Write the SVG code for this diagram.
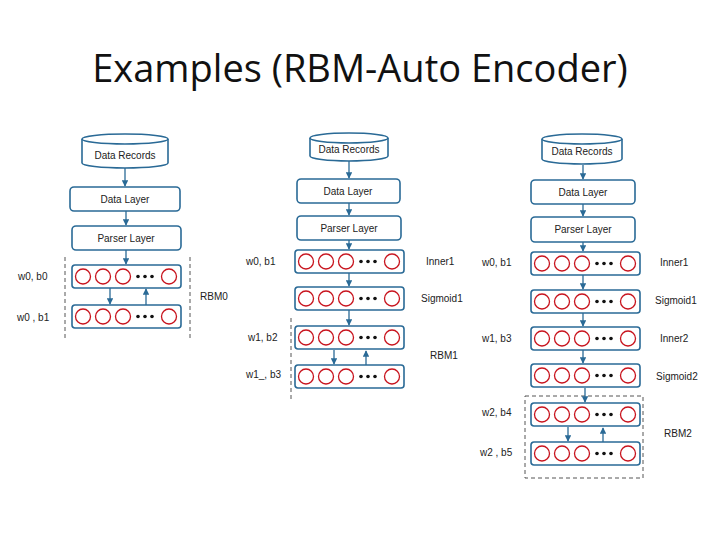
<svg xmlns="http://www.w3.org/2000/svg" xmlns:xlink="http://www.w3.org/1999/xlink" width="720" height="540" viewBox="0 0 720 540">
<style>
.box{fill:#fff;stroke:#2a6a96;stroke-width:1.6}
.lbl{font-family:"Liberation Sans",Arial,sans-serif;font-size:10px;fill:#222}
.in{font-family:"Liberation Sans",Arial,sans-serif;font-size:10px;fill:#222;text-anchor:middle}
.c{fill:#fff;stroke:#c8141e;stroke-width:1.3}
.dash{stroke:#555;stroke-width:1;stroke-dasharray:4,3;fill:none}
.arr{stroke:#2a6a96;stroke-width:1.3;fill:none;marker-end:url(#ah)}
</style>
<defs>
<marker id="ah" viewBox="0 0 10 10" refX="9" refY="5" markerWidth="5" markerHeight="5" orient="auto"><path d="M0,0 L10,5 L0,10 z" fill="#2a6a96"/></marker>
<g id="row">
<rect class="box" x="0" y="0" width="109" height="23" rx="3"/>
<circle class="c" cx="11" cy="11.5" r="7.5"/><circle class="c" cx="31" cy="11.5" r="7.5"/><circle class="c" cx="51" cy="11.5" r="7.5"/>
<circle cx="66" cy="11.5" r="1.8" fill="#111"/><circle cx="73" cy="11.5" r="1.8" fill="#111"/><circle cx="80" cy="11.5" r="1.8" fill="#111"/>
<circle class="c" cx="97" cy="11.5" r="7.5"/>
</g>
</defs>
<rect width="720" height="540" fill="#fff"/>
<text x="360" y="82" text-anchor="middle" font-family="Open Sans,Liberation Sans,sans-serif" font-size="38" fill="#111">Examples (RBM-Auto Encoder)</text>

<g id="col1">
<g id="db1"><path class="box" d="M82,139 v24 a43,5 0 0 0 86,0 v-24"/><ellipse class="box" cx="125" cy="139" rx="43" ry="5"/><text class="in" x="125" y="159">Data Records</text></g>
<g id="dl1"><rect class="box" x="70" y="187" width="110" height="24" rx="4" stroke-width="2.2"/><text class="in" x="125" y="203">Data Layer</text></g>
<g id="pl1"><rect class="box" x="72" y="226" width="109" height="24" rx="4"/><text class="in" x="126" y="242">Parser Layer</text></g>
<g id="r1a"><use href="#row" x="72" y="265"/></g>
<g id="r1b"><use href="#row" x="72" y="305"/></g>
<text class="lbl" x="18" y="280">w0, b0</text>
<text class="lbl" x="17" y="321">w0  , b1</text>
<text class="lbl" x="200" y="300">RBM0</text>
<line class="dash" x1="65" y1="257" x2="65" y2="340"/><line class="dash" x1="190" y1="257" x2="190" y2="340"/>
</g>

<g id="col2">
<g id="db2"><path class="box" d="M310,138 v18 a39,5 0 0 0 78,0 v-18"/><ellipse class="box" cx="349" cy="138" rx="39" ry="5"/><text class="in" x="349" y="153">Data Records</text></g>
<g id="dl2"><rect class="box" x="297" y="179" width="103" height="24" rx="4"/><text class="in" x="348" y="195">Data Layer</text></g>
<g id="pl2"><rect class="box" x="297" y="216" width="104" height="24" rx="4"/><text class="in" x="349" y="232">Parser Layer</text></g>
<g id="r2a"><use href="#row" x="295" y="250"/></g>
<g id="r2b"><use href="#row" x="295" y="287"/></g>
<g id="r2c"><use href="#row" x="295" y="326"/></g>
<g id="r2d"><use href="#row" x="295" y="365"/></g>
<text class="lbl" x="246" y="265">w0, b1</text>
<text class="lbl" x="426" y="265">Inner1</text>
<text class="lbl" x="421" y="302">Sigmoid1</text>
<text class="lbl" x="248" y="341">w1, b2</text>
<text class="lbl" x="430" y="359">RBM1</text>
<text class="lbl" x="246" y="378">w1_, b3</text>
<line class="dash" x1="291" y1="318" x2="291" y2="400"/>
</g>

<g id="col3">
<g id="db3"><path class="box" d="M542,139 v20 a40,5 0 0 0 80,0 v-20"/><ellipse class="box" cx="582" cy="139" rx="40" ry="5"/><text class="in" x="582" y="155">Data Records</text></g>
<g id="dl3"><rect class="box" x="531" y="180" width="104" height="24" rx="4"/><text class="in" x="583" y="196">Data Layer</text></g>
<g id="pl3"><rect class="box" x="531" y="217" width="104" height="25" rx="4"/><text class="in" x="583" y="233">Parser Layer</text></g>
<g id="r3a"><use href="#row" x="531" y="252"/></g>
<g id="r3b"><use href="#row" x="531" y="290"/></g>
<g id="r3c"><use href="#row" x="531" y="327"/></g>
<g id="r3d"><use href="#row" x="531" y="364"/></g>
<g id="r3e"><use href="#row" x="531" y="403"/></g>
<g id="r3f"><use href="#row" x="531" y="442"/></g>
<text class="lbl" x="482" y="266">w0, b1</text>
<text class="lbl" x="660" y="266">Inner1</text>
<text class="lbl" x="655" y="304">Sigmoid1</text>
<text class="lbl" x="482" y="342">w1, b3</text>
<text class="lbl" x="660" y="342">Inner2</text>
<text class="lbl" x="656" y="380">Sigmoid2</text>
<text class="lbl" x="482" y="416">w2, b4</text>
<text class="lbl" x="664" y="437">RBM2</text>
<text class="lbl" x="480" y="456">w2  , b5</text>
<rect class="dash" x="525" y="396" width="118" height="82"/>
</g>

<g id="connectors">
<line class="arr" x1="125" y1="168" x2="125" y2="186"/>
<line class="arr" x1="126" y1="211" x2="126" y2="225"/>
<line class="arr" x1="126" y1="250" x2="126" y2="264"/>
<line class="arr" x1="110" y1="288" x2="110" y2="304"/>
<line class="arr" x1="146" y1="305" x2="146" y2="289"/>

<line class="arr" x1="349" y1="161" x2="349" y2="178"/>
<line class="arr" x1="349" y1="203" x2="349" y2="215"/>
<line class="arr" x1="349" y1="240" x2="349" y2="249"/>
<line class="arr" x1="349" y1="273" x2="349" y2="286"/>
<line class="arr" x1="349" y1="310" x2="349" y2="325"/>
<line class="arr" x1="334" y1="350" x2="334" y2="364"/>
<line class="arr" x1="366" y1="365" x2="366" y2="351"/>

<line class="arr" x1="583" y1="165" x2="583" y2="179"/>
<line class="arr" x1="583" y1="204" x2="583" y2="216"/>
<line class="arr" x1="583" y1="242" x2="583" y2="251"/>
<line class="arr" x1="583" y1="275" x2="583" y2="289"/>
<line class="arr" x1="583" y1="313" x2="583" y2="326"/>
<line class="arr" x1="583" y1="350" x2="583" y2="363"/>
<line class="arr" x1="585" y1="388" x2="585" y2="402"/>
<line class="arr" x1="568" y1="427" x2="568" y2="441"/>
<line class="arr" x1="603" y1="442" x2="603" y2="428"/>
</g>
</svg>
